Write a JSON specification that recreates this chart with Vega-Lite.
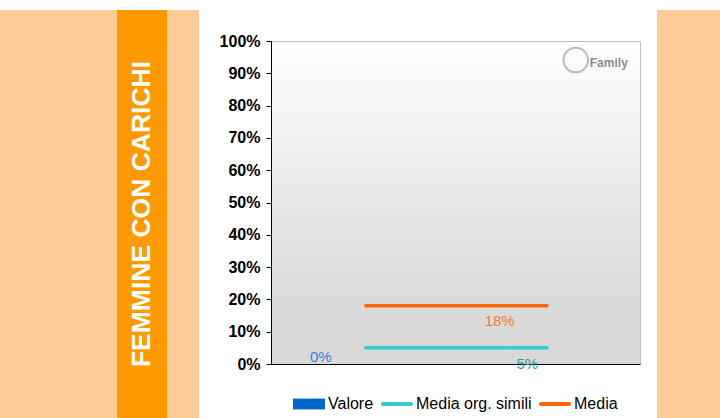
{
  "$schema": "https://vega.github.io/schema/vega-lite/v6.json",
  "background": "white",
  "padding": {"left": 0, "top": 10, "right": 0, "bottom": 0},
  "spacing": 0,
  "config": {
    "font": "Liberation Sans",
    "view": {"stroke": null}
  },
  "datasets": {
    "one": [{}],
    "main": [
      {"kind": "bar", "series": "Valore", "x": 0.13, "value": 0},
      {"kind": "line", "series": "Media org. simili", "x": 0.25, "value": 0.05},
      {"kind": "line", "series": "Media org. simili", "x": 0.755, "value": 0.05},
      {"kind": "line", "series": "Media", "x": 0.25, "value": 0.18},
      {"kind": "line", "series": "Media", "x": 0.755, "value": 0.18},
      {"kind": "label", "series": "Valore", "x": 0.125, "value": 0, "label": "0%"},
      {"kind": "label", "series": "Media", "x": 0.623, "value": 0.18, "label": "18%"},
      {"kind": "label", "series": "Media org. simili", "x": 0.70, "value": 0.05, "label": "5%"},
      {"kind": "logo", "series": "logo", "x": 0.927, "value": 0.932, "label": "Family"},
      {"kind": "icon", "series": "logo", "x": 0.835, "value": 0.941, "label": ""}
    ]
  },
  "hconcat": [
    {
      "width": 117, "height": 408,
      "view": {"fill": "#FFCC99", "stroke": null},
      "data": {"name": "one"},
      "mark": {"type": "text", "text": ""},
      "encoding": {}
    },
    {
      "width": 50, "height": 408,
      "view": {"fill": "#FF9900", "stroke": null},
      "data": {"name": "one"},
      "mark": {"type": "text", "text": "FEMMINE CON CARICHI", "angle": 270, "fontSize": 26.5, "fontWeight": "bold", "color": "white", "font": "Liberation Sans", "align": "center", "baseline": "middle"},
      "encoding": {}
    },
    {
      "width": 32, "height": 408,
      "view": {"fill": "#FFCC99", "stroke": null},
      "data": {"name": "one"},
      "mark": {"type": "text", "text": ""},
      "encoding": {}
    },
    {
      "bounds": "flush",
      "spacing": 0,
      "vconcat": [
        {
          "width": 369, "height": 31,
          "view": {"fill": null, "stroke": null},
          "data": {"name": "one"},
          "mark": {"type": "text", "text": ""},
          "encoding": {}
        },
        {
          "width": 369, "height": 323,
          "view": {
            "fill": {"gradient": "linear", "x1": 0, "y1": 0, "x2": 0, "y2": 1,
              "stops": [{"offset": 0, "color": "#FFFFFF"}, {"offset": 0.75, "color": "#DCDCDC"}, {"offset": 1, "color": "#D9D9D9"}]},
            "stroke": "#C0C0C0", "strokeWidth": 1
          },
          "data": {"name": "main"},
          "encoding": {
            "x": {"field": "x", "type": "quantitative", "scale": {"domain": [0, 1], "nice": false},
              "axis": {"labels": false, "ticks": false, "grid": false, "title": null, "domainColor": "black", "domainWidth": 1}},
            "y": {"field": "value", "type": "quantitative", "scale": {"domain": [0, 1], "nice": false},
              "axis": {"values": [0, 0.1, 0.2, 0.3, 0.4, 0.5, 0.6, 0.7, 0.8, 0.9, 1], "format": ".0%", "grid": false, "title": null,
                "labelFont": "Liberation Sans", "labelFontWeight": "bold", "labelFontSize": 16, "labelColor": "black",
                "tickColor": "black", "tickSize": 5, "domainColor": "black", "labelPadding": 6, "minExtent": 71, "maxExtent": 71}}
          },
          "layer": [
            {
              "transform": [{"filter": "datum.kind === 'bar'"}],
              "mark": {"type": "bar", "size": 30},
              "encoding": {
                "color": {"field": "series", "type": "nominal",
                  "scale": {"domain": ["Valore", "Media org. simili", "Media"], "range": ["#0066CC", "#33CCCC", "#FF6600"]},
                  "legend": {
                    "orient": "none", "legendX": 293, "legendY": 378, "direction": "horizontal", "title": null,
                    "labelFont": "Liberation Sans", "labelFontSize": 16, "labelColor": "black",
                    "symbolSize": 1024, "labelOffset": 3, "columnPadding": 7,
                    "encode": {"symbols": {"update": {
                      "shape": {"signal": "datum.value === 'Valore' ? 'M-1,-0.34H1V0.34H-1Z' : 'M-0.875,-0.125H0.875A0.125,0.125 0 0 1 0.875,0.125H-0.875A0.125,0.125 0 0 1 -0.875,-0.125Z'"},
                      "fill": {"scale": "color", "field": "value"},
                      "strokeWidth": {"value": 0},
                      "opacity": {"value": 1}
                    }}}
                  }}
              }
            },
            {
              "transform": [{"filter": "datum.kind === 'line'"}],
              "mark": {"type": "line", "strokeWidth": 3.5, "strokeCap": "round"},
              "encoding": {
                "color": {"field": "series", "type": "nominal",
                  "scale": {"domain": ["Valore", "Media org. simili", "Media"], "range": ["#0066CC", "#33CCCC", "#FF6600"]}}
              }
            },
            {
              "transform": [{"filter": "datum.kind === 'label' && datum.series === 'Valore'"}],
              "mark": {"type": "text", "fontSize": 15, "color": "#3A7FD5", "dy": -7},
              "encoding": {"text": {"field": "label"}}
            },
            {
              "transform": [{"filter": "datum.kind === 'label' && datum.series === 'Media'"}],
              "mark": {"type": "text", "fontSize": 15, "color": "#F47A2E", "dy": 15},
              "encoding": {"text": {"field": "label"}}
            },
            {
              "transform": [{"filter": "datum.kind === 'label' && datum.series === 'Media org. simili'"}],
              "mark": {"type": "text", "fontSize": 15, "color": "#2E9C9C", "dy": 16},
              "encoding": {"text": {"field": "label"}}
            },
            {
              "transform": [{"filter": "datum.kind === 'logo'"}],
              "mark": {"type": "text", "fontSize": 12, "fontWeight": "bold", "color": "#8C8C8C"},
              "encoding": {"text": {"field": "label"}}
            },
            {
              "transform": [{"filter": "datum.kind === 'icon'"}],
              "mark": {"type": "point", "shape": "circle", "size": 600, "filled": false, "stroke": "#BBBBBB", "strokeWidth": 2, "opacity": 1},
              "encoding": {}
            }
          ]
        }
      ]
    },
    {
      "width": 16, "height": 408,
      "view": {"fill": "white", "stroke": null},
      "data": {"name": "one"},
      "mark": {"type": "text", "text": ""},
      "encoding": {}
    },
    {
      "width": 65, "height": 408,
      "view": {"fill": "#FFCC99", "stroke": null},
      "data": {"name": "one"},
      "mark": {"type": "text", "text": ""},
      "encoding": {}
    }
  ]
}
